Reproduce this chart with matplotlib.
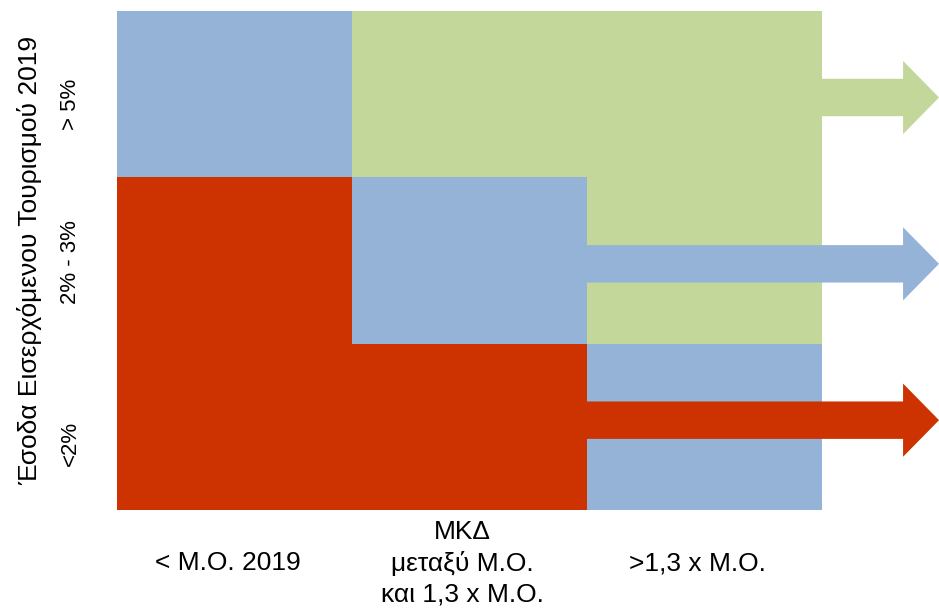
import matplotlib
matplotlib.use("Agg")
import matplotlib.pyplot as plt
import numpy as np
from matplotlib.colors import ListedColormap
from matplotlib.patches import FancyArrow

plt.rcParams['font.family'] = ['Liberation Sans', 'DejaVu Sans']

# Data
x_labels = ["< Μ.Ο. 2019", "ΜΚΔ\nμεταξύ Μ.Ο.\nκαι 1,3 x Μ.Ο.", ">1,3 x Μ.Ο."]
y_labels = ["<2%", "2% - 3%", "> 5%"]
y_title = "Έσοδα Εισερχόμενου Τουρισμού 2019"
# levels: 0 = red (low), 1 = blue (mid), 2 = green (high); rows bottom -> top
row_low = [0, 0, 1]
row_mid = [0, 1, 2]
row_high = [1, 2, 2]
arrow_levels = [0, 1, 2]
arrow_rows = [0.54, 1.48, 2.48]

colors = ["#CC3300", "#95B3D7", "#C4D79B"]

fig = plt.figure(figsize=(9.39, 6.09), dpi=100)
ax = fig.add_axes([117/939, 99/609, 705/939, 499/609])
grid = np.array([row_low, row_mid, row_high])
cmap = ListedColormap(colors)
ax.pcolormesh(np.arange(4), np.arange(4), grid, cmap=cmap, vmin=-0.5, vmax=2.5,
              antialiased=False, edgecolor='none')
ax.set_xlim(0, 3)
ax.set_ylim(0, 3)
ax.axis('off')

for lvl, yv in zip(arrow_levels, arrow_rows):
    arr = FancyArrow(2.0, yv, 1.498, 0, width=0.225, head_width=0.44,
                     head_length=0.153, length_includes_head=True,
                     color=colors[lvl], linewidth=0, clip_on=False)
    ax.add_patch(arr)

for i, lab in enumerate(x_labels):
    ax.text(i + 0.47, -0.32, lab, ha='center', va='center', fontsize=19,
            linespacing=1.35, clip_on=False)

y_offsets = [-0.10, -0.01, -0.06]
for i, lab in enumerate(y_labels):
    ax.text(-0.2, i + 0.5 + y_offsets[i], lab, rotation=90, ha='center', va='center',
            fontsize=16, clip_on=False)

ax.text(-0.37, 1.5, y_title, rotation=90, ha='center', va='center', fontsize=19,
        clip_on=False)

fig.savefig("out.png", dpi=100)
